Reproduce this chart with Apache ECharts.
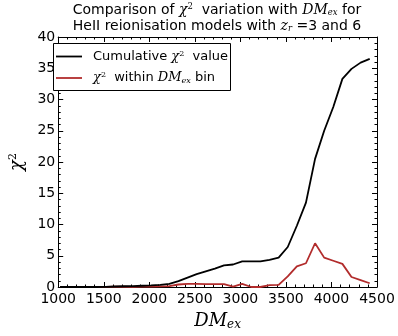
<!DOCTYPE html>
<html>
<head>
<meta charset="utf-8">
<script src="https://cdn.jsdelivr.net/npm/echarts@6/dist/echarts.min.js"></script>
<style>
  html, body { margin: 0; padding: 0; background: #fff; }
  #chart { width: 398px; height: 336px; }
</style>
</head>
<body>
<div id="chart"></div>
<script>
// DM_ex bin positions
const dmEx = [1020, 1120, 1220, 1320, 1420, 1520, 1620, 1720, 1820, 1920,
  2020, 2120, 2220, 2320, 2420, 2520, 2620, 2720, 2820, 2920,
  3020, 3120, 3220, 3320, 3420, 3520, 3620, 3720, 3820, 3920,
  4020, 4120, 4220, 4320, 4420]
// cumulative chi^2
const cumChi2 = [0, 0, 0, 0, 0, 0.02, 0.08, 0.12, 0.15, 0.2,
  0.25, 0.35, 0.5, 0.95, 1.5, 2.05, 2.5, 2.95, 3.45, 3.6,
  4.1, 4.1, 4.1, 4.35, 4.7, 6.4, 9.8, 13.5, 20.5, 25.0,
  28.8, 33.3, 34.9, 35.9, 36.5]
// chi^2 within each DM_ex bin
const binChi2 = [0, 0, 0, 0, 0, 0.02, 0.05, 0.04, 0.03, 0.05,
  0.05, 0.1, 0.15, 0.4, 0.5, 0.5, 0.45, 0.45, 0.45, 0.05,
  0.5, 0, 0, 0.3, 0.35, 1.7, 3.3, 3.8, 7.0, 4.7,
  4.2, 3.7, 1.6, 1.1, 0.6]

const colors = ['#000000', '#b22c2c']

const toPairs = (xs, ys) => xs.map((x, i) => [x, ys[i]])

const mathFont = 'DejaVu Serif'
const sansFont = 'DejaVu Sans'

const chart = echarts.init(document.getElementById('chart'), null, { renderer: 'canvas' })

const tickStyle = {
  axisLine: { show: true, onZero: false, lineStyle: { color: '#000', width: 1 } },
  axisTick: { show: true, inside: true, length: 5, lineStyle: { color: '#000' } },
  minorTick: { show: true, splitNumber: 5, length: 2.5, lineStyle: { color: '#000' } },
  splitLine: { show: false }
}

const titleRich = {
  t: { fontFamily: sansFont, fontWeight: 'normal', fontSize: 14, color: '#000', lineHeight: 16 },
  m: { fontFamily: mathFont, fontWeight: 'normal', fontStyle: 'italic', fontSize: 14, color: '#000', lineHeight: 16 },
  s: { fontFamily: mathFont, fontWeight: 'normal', fontSize: 8.5, color: '#000', lineHeight: 16, padding: [0, 0, 7, 0] },
  sub: { fontFamily: mathFont, fontWeight: 'normal', fontStyle: 'italic', fontSize: 8.5, color: '#000', lineHeight: 16, padding: [6, 0, 0, 0] }
}

const option = {
  animation: false,
  backgroundColor: '#fff',
  title: {
    left: 212,
    textAlign: 'center',
    top: 0,
    padding: [2, 5, 2, 5],
    text: '{t|Comparison of }{m|χ}{s|2}{t|  variation with }{m|DM}{sub|ex}{t| for}\n{t|HeII reionisation models with }{m|z}{sub|r}{t| =3 and 6}',
    textStyle: { fontWeight: 'normal', rich: titleRich }
  },
  grid: { left: 48, right: 21, top: 37, bottom: 43, show: false },
  xAxis: [
    Object.assign({
      type: 'value', min: 1000, max: 4500, interval: 500, position: 'bottom',
      axisLabel: { color: '#000', fontFamily: sansFont, fontSize: 14, margin: 5, formatter: v => String(v) },
      name: '{m|DM}{sub|ex}', nameLocation: 'middle', nameGap: 24,
      nameTextStyle: {
        rich: {
          m: { fontFamily: mathFont, fontStyle: 'italic', fontSize: 18, color: '#000' },
          sub: { fontFamily: mathFont, fontStyle: 'italic', fontSize: 12, color: '#000', verticalAlign: 'bottom', padding: [8, 0, 0, 0] }
        }
      }
    }, tickStyle),
    Object.assign({
      type: 'value', min: 1000, max: 4500, interval: 500, position: 'top',
      axisLabel: { show: false }
    }, tickStyle)
  ],
  yAxis: [
    Object.assign({
      type: 'value', min: 0, max: 40, interval: 5, position: 'left',
      axisLabel: { color: '#000', fontFamily: sansFont, fontSize: 14, margin: 3 },
      name: '{m|χ}{s|2}', nameLocation: 'middle', nameGap: 27, nameRotate: 90,
      nameTextStyle: {
        rich: {
          m: { fontFamily: mathFont, fontStyle: 'italic', fontSize: 18, color: '#000' },
          s: { fontFamily: mathFont, fontSize: 11, color: '#000', verticalAlign: 'top', padding: [0, 0, 8, 0] }
        }
      }
    }, tickStyle),
    Object.assign({
      type: 'value', min: 0, max: 40, interval: 5, position: 'right',
      axisLabel: { show: false }
    }, tickStyle)
  ],
  series: [
    {
      name: 'Cumulative χ² value', type: 'line', xAxisIndex: 0, yAxisIndex: 0,
      data: toPairs(dmEx, cumChi2), showSymbol: false,
      lineStyle: { color: colors[0], width: 1.8 }, z: 3
    },
    {
      name: 'χ² within DMex bin', type: 'line', xAxisIndex: 0, yAxisIndex: 0,
      data: toPairs(dmEx, binChi2), showSymbol: false,
      lineStyle: { color: colors[1], width: 1.8 }, z: 2
    }
  ],
  graphic: [
    // legend box
    { type: 'rect', shape: { x: 53.5, y: 43.5, width: 177, height: 47 },
      style: { fill: '#fff', stroke: '#000', lineWidth: 1 }, z: 10 },
    { type: 'line', shape: { x1: 56, y1: 56.5, x2: 82, y2: 56.5 },
      style: { stroke: colors[0], lineWidth: 1.8 }, z: 11 },
    { type: 'line', shape: { x1: 56, y1: 78, x2: 82, y2: 78 },
      style: { stroke: colors[1], lineWidth: 1.8 }, z: 11 },
    { type: 'text', x: 93, y: 56.5, z: 11,
      style: {
        text: '{t|Cumulative }{m|χ}{s|2}{t|  value}',
        verticalAlign: 'middle',
        rich: {
          t: { fontFamily: sansFont, fontSize: 13, fill: '#000' },
          m: { fontFamily: mathFont, fontStyle: 'italic', fontSize: 13, fill: '#000' },
          s: { fontFamily: mathFont, fontSize: 8, fill: '#000', verticalAlign: 'top', padding: [0, 0, 6, 0] }
        }
      } },
    { type: 'text', x: 93, y: 78, z: 11,
      style: {
        text: '{m|χ}{s|2}{t|  within }{m|DM}{sub|ex}{t| bin}',
        verticalAlign: 'middle',
        rich: {
          t: { fontFamily: sansFont, fontSize: 13, fill: '#000' },
          m: { fontFamily: mathFont, fontStyle: 'italic', fontSize: 13, fill: '#000' },
          s: { fontFamily: mathFont, fontSize: 8, fill: '#000', verticalAlign: 'top', padding: [0, 0, 6, 0] },
          sub: { fontFamily: mathFont, fontStyle: 'italic', fontSize: 8, fill: '#000', verticalAlign: 'bottom', padding: [5, 0, 0, 0] }
        }
      } }
  ]
}

chart.setOption(option)
</script>
</body>
</html>
